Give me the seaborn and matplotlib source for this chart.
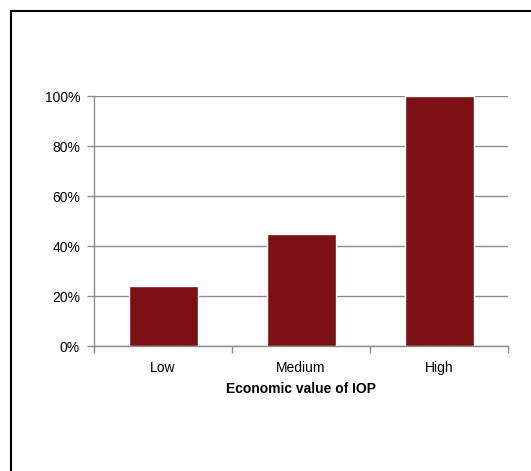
import matplotlib
matplotlib.use("Agg")
import matplotlib.pyplot as plt
import seaborn as sns
import pandas as pd
from matplotlib.lines import Line2D
from matplotlib.ticker import PercentFormatter, FixedLocator

categories = ["Low", "Medium", "High"]
values = [24, 45, 100]
yticks = [0, 20, 40, 60, 80, 100]

sns.set_style("white")
plt.rcParams['font.family'] = ['Liberation Sans', 'DejaVu Sans']
plt.rcParams['text.color'] = 'black'
plt.rcParams['xtick.labelcolor'] = 'black'
plt.rcParams['ytick.labelcolor'] = 'black'
plt.rcParams['axes.labelcolor'] = 'black'

df = pd.DataFrame({"cat": categories, "val": values})

fig = plt.figure(figsize=(5.31, 4.71), dpi=100)
ax = fig.add_axes([94/531, 125/471, 414/531, 250/471])
sns.barplot(data=df, x="cat", y="val", color="#7B1113", saturation=1,
            width=0.5, ax=ax, zorder=3)
ax.set_xlim(-0.5, 2.5)
ax.set_ylim(0, 100)
ax.set_yticks(yticks)
ax.yaxis.set_major_formatter(PercentFormatter(decimals=0))
ax.yaxis.grid(True, color="#8c8c8c", linewidth=1, zorder=0)
ax.set_axisbelow(True)
for s in ["top", "right"]:
    ax.spines[s].set_visible(False)
for s in ["left", "bottom"]:
    ax.spines[s].set_color("#8c8c8c")
    ax.spines[s].set_linewidth(1)
ax.tick_params(axis="y", left=True, length=5, width=1, color="#8c8c8c",
               labelsize=10, pad=5, labelcolor="black")
ax.tick_params(axis="x", bottom=False, labelsize=10, pad=7, labelcolor="black")
ax.xaxis.set_minor_locator(FixedLocator([-0.5, 0.5, 1.5, 2.5]))
ax.tick_params(axis="x", which="minor", bottom=True, length=5, width=1,
               color="#8c8c8c")
ax.set_ylabel("")
ax.set_xlabel("Economic value of IOP", fontsize=10, fontweight="bold",
              labelpad=5, color="black")

# figure frame
fig.add_artist(Line2D([11/531, 11/531], [0, 1 - 11/471], transform=fig.transFigure,
                      color="black", linewidth=1.5))
fig.add_artist(Line2D([11/531, 1], [1 - 11/471, 1 - 11/471], transform=fig.transFigure,
                      color="black", linewidth=1.5))

fig.savefig("out.png", dpi=100)
